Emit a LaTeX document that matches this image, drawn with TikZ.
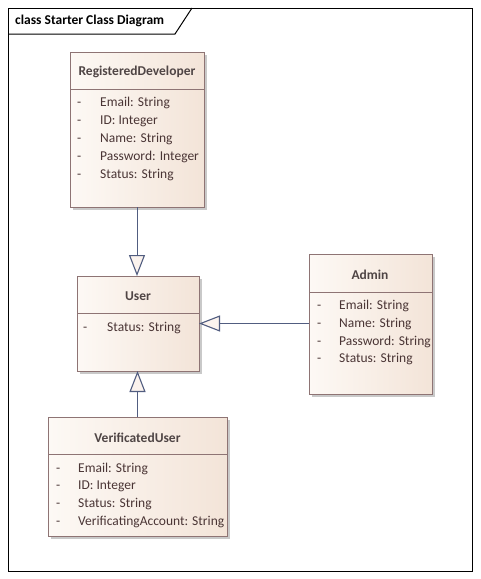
\documentclass[tikz,border=0pt]{standalone}
\usepackage{fontspec}
\setmainfont{Carlito}
\usetikzlibrary{arrows.meta,shadows}
\definecolor{boxline}{HTML}{8E7474}
\definecolor{boxL}{HTML}{FDF9F5}
\definecolor{boxR}{HTML}{F3E4D8}
\definecolor{shadowgray}{HTML}{C9C9C9}
\definecolor{hdrtext}{HTML}{4F4545}
\definecolor{attrtext}{HTML}{4A3535}
\definecolor{conn}{HTML}{515D80}
\definecolor{tipfill}{HTML}{FBF3EE}
\begin{document}
\begin{tikzpicture}[x=1pt,y=-1pt,
  classbox/.style={draw=boxline, line width=1pt, left color=boxL, right color=boxR,
    anchor=north west, inner sep=0pt, outer sep=0pt,
    drop shadow={shadow xshift=3pt, shadow yshift=-3pt, fill=shadowgray, opacity=1}},
  sep/.style={draw=boxline, line width=0.9pt},
  hdr/.style={font=\fontsize{13.5}{16}\selectfont\bfseries, text=hdrtext, inner sep=0pt},
  attr/.style={font=\fontsize{13.5}{16}\selectfont, text=attrtext, anchor=west, inner sep=0pt,
    text height=10.5pt, text depth=1pt},
  gen/.style={draw=conn, line width=1pt, -{Triangle[open, width=16pt, length=21pt, fill=tipfill, line width=1.1pt]}},
  frame/.style={draw=black, line width=1pt}]
\useasboundingbox (0,0) rectangle (481,579);
\fill[white] (0,0) rectangle (481,579);
% frame
\draw[frame] (8,8) rectangle (472,571);
\draw[frame] (8,34) -- (175,34) -- (192,8);
\node[font=\fontsize{13.5}{16}\selectfont\bfseries, anchor=west, inner sep=0pt] (title) at (15,21) {class Starter Class Diagram};

% RegisteredDeveloper
\node[classbox, minimum width=134pt, minimum height=155pt] (regdev) at (70,52) {};
\draw[sep] (70,89) -- (204,89);
\node[hdr] (regdevh) at (137,72) {RegisteredDeveloper};
\node[attr] (rd1d) at (77,102) {-}; \node[attr] (rd1) at (100,102) {Email: String};
\node[attr] (rd2d) at (77,120) {-}; \node[attr] (rd2) at (100,120) {ID: Integer};
\node[attr] (rd3d) at (77,138) {-}; \node[attr] (rd3) at (100,138) {Name: String};
\node[attr] (rd4d) at (77,156) {-}; \node[attr] (rd4) at (100,156) {Password: Integer};
\node[attr] (rd5d) at (77,174) {-}; \node[attr] (rd5) at (100,174) {Status: String};

% User
\node[classbox, minimum width=122pt, minimum height=95pt] (user) at (77,276) {};
\draw[sep] (77,313) -- (199,313);
\node[hdr] (userh) at (138,296) {User};
\node[attr] (u1d) at (83,327) {-}; \node[attr] (u1) at (107,327) {Status: String};

% Admin
\node[classbox, minimum width=123pt, minimum height=140pt] (admin) at (309,254) {};
\draw[sep] (309,292) -- (432,292);
\node[hdr] (adminh) at (370,275) {Admin};
\node[attr] (a1d) at (317,305) {-}; \node[attr] (a1) at (339,305) {Email: String};
\node[attr] (a2d) at (317,323) {-}; \node[attr] (a2) at (339,323) {Name: String};
\node[attr] (a3d) at (317,341) {-}; \node[attr] (a3) at (339,341) {Password: String};
\node[attr] (a4d) at (317,358) {-}; \node[attr] (a4) at (339,358) {Status: String};

% VerificatedUser
\node[classbox, minimum width=179pt, minimum height=119pt] (veru) at (48,417) {};
\draw[sep] (48,454) -- (227,454);
\node[hdr] (veruh) at (137.5,438) {VerificatedUser};
\node[attr] (v1d) at (56,468) {-}; \node[attr] (v1) at (78,468) {Email: String};
\node[attr] (v2d) at (56,485) {-}; \node[attr] (v2) at (78,485) {ID: Integer};
\node[attr] (v3d) at (56,503) {-}; \node[attr] (v3) at (78,503) {Status: String};
\node[attr] (v4d) at (56,521) {-}; \node[attr] (v4) at (78,521) {VerificatingAccount: String};

% generalizations
\draw[gen] (regdev.south) -- (regdev.south |- user.north);
\draw[gen] (admin.west |- user.east) -- (user.east);
\draw[gen] (veru.north) -- (veru.north |- user.south);
\end{tikzpicture}
\end{document}
